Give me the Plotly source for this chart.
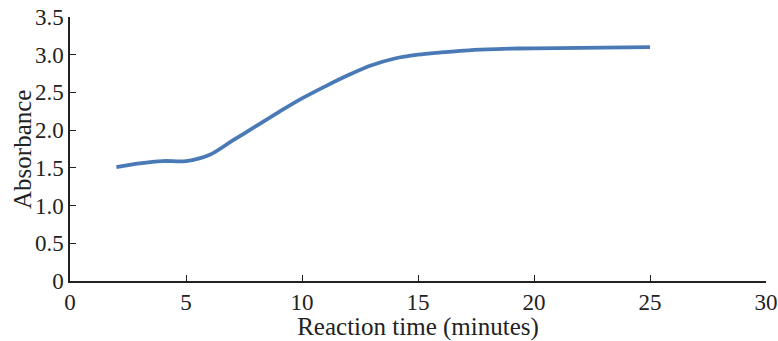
import plotly.graph_objects as go

time_min = [2, 3, 4, 5, 6, 7, 8, 9, 10, 11, 12, 13, 14, 15, 16, 17, 18, 19, 20, 22, 25]
absorbance = [1.51, 1.56, 1.59, 1.59, 1.67, 1.86, 2.05, 2.24, 2.42, 2.58, 2.73, 2.86, 2.95, 3.00, 3.03, 3.055, 3.07, 3.08, 3.085, 3.09, 3.10]

x_ticks = [0, 5, 10, 15, 20, 25, 30]
y_ticks = [0, 0.5, 1.0, 1.5, 2.0, 2.5, 3.0, 3.5]
y_tick_labels = ["0", "0.5", "1.0", "1.5", "2.0", "2.5", "3.0", "3.5"]

font_family = "Liberation Serif, DejaVu Serif, serif"

fig = go.Figure()
fig.add_trace(go.Scatter(
    x=time_min, y=absorbance, mode="lines",
    line=dict(color="#4a7ab5", width=3.8, shape="spline", smoothing=1.0),
    showlegend=False,
))

fig.update_layout(
    width=778, height=341,
    margin=dict(l=70, r=12, t=17, b=60, autoexpand=False),
    paper_bgcolor="white", plot_bgcolor="white",
    font=dict(family=font_family, size=23, color="#222"),
    annotations=[dict(
        text="Absorbance", xref="paper", yref="paper",
        x=-0.069, y=0.5, xanchor="center", yanchor="middle",
        textangle=-90, showarrow=False, font=dict(size=25),
    )],
)
fig.update_xaxes(
    range=[0, 30], tickvals=x_ticks, ticktext=[str(v) for v in x_ticks],
    showgrid=False, zeroline=False, showline=True, linecolor="#222", linewidth=1.5,
    ticks="inside", ticklen=6, tickcolor="#222", automargin=False,
    ticklabeloverflow="allow",
    title=dict(text="Reaction time (minutes)", standoff=3, font=dict(size=25)),
)
fig.update_yaxes(
    range=[0, 3.5], tickvals=y_ticks, ticktext=y_tick_labels,
    showgrid=False, zeroline=False, showline=True, linecolor="#222", linewidth=1.5,
    ticks="inside", ticklen=6, tickcolor="#222", automargin=False,
    ticklabeloverflow="allow",
)

fig.write_html(
    "out.html",
    config={"displayModeBar": False},
    post_script="document.body.style.margin='0';document.body.style.overflow='hidden';",
)
